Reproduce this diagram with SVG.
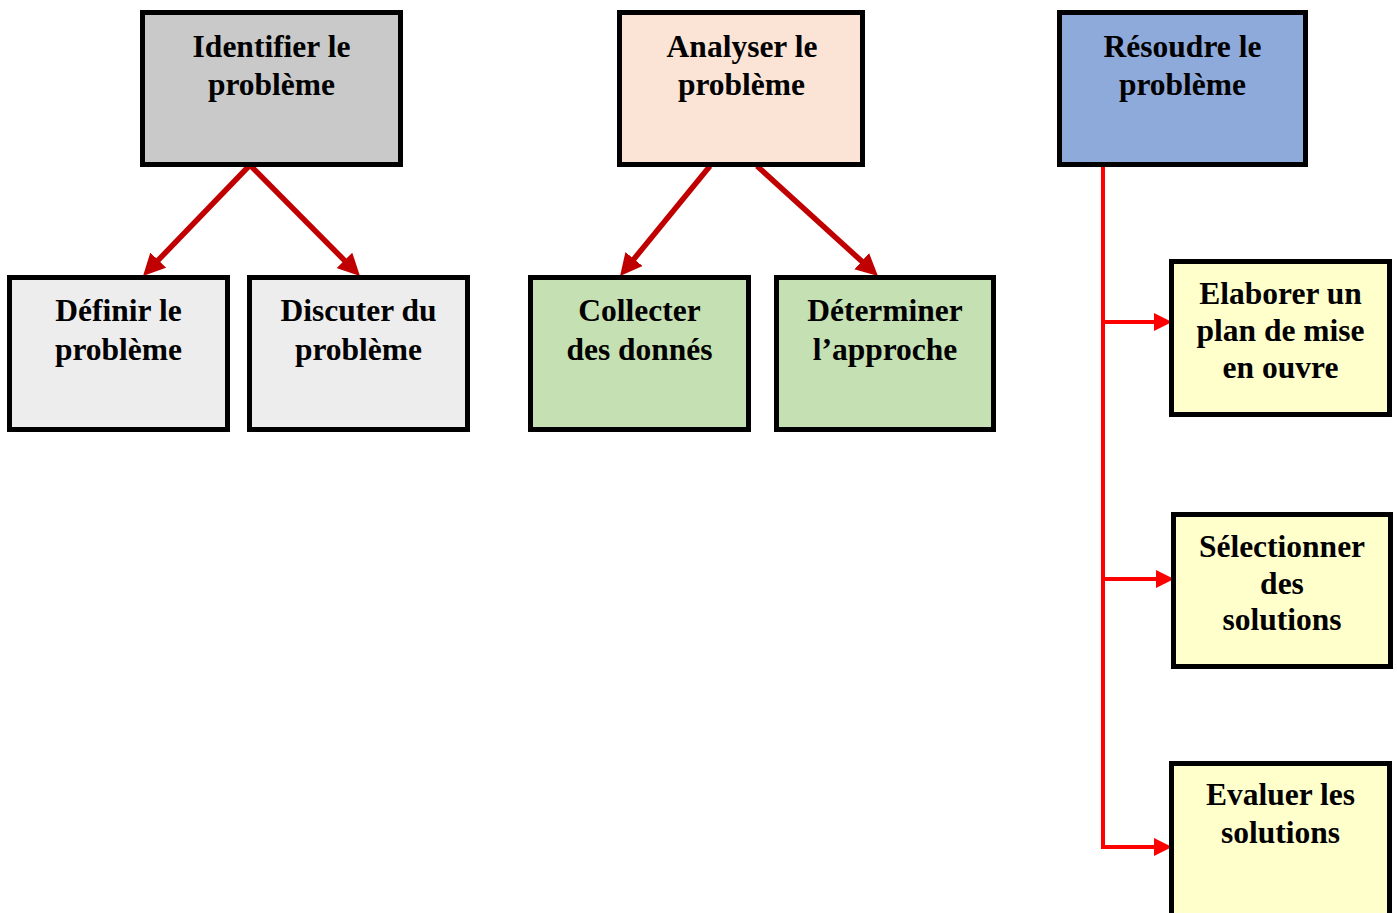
<svg xmlns="http://www.w3.org/2000/svg" width="1397" height="913" viewBox="0 0 1397 913">
<style>
.box{stroke:#000;stroke-width:5}
.t{font-family:"Liberation Serif","Times New Roman",serif;font-weight:bold;font-size:31.5px;fill:#000;text-anchor:middle}
.dr{stroke:#C00000;stroke-width:5.5;fill:none}
.rd{stroke:#FF0000;stroke-width:4;fill:none}
</style>
<defs>
<marker id="ahd" markerUnits="userSpaceOnUse" viewBox="0 0 22 22" markerWidth="22" markerHeight="22" refX="8" refY="11" orient="auto">
<path d="M0,0 L22,11 L0,22 z" fill="#C00000"/>
</marker>
<marker id="ahr" markerUnits="userSpaceOnUse" viewBox="0 0 18 18" markerWidth="18" markerHeight="18" refX="2" refY="9" orient="auto">
<path d="M0,0 L18,9 L0,18 z" fill="#FF0000"/>
</marker>
</defs>
<rect width="1397" height="913" fill="#fff"/>
<g id="connectors">
<path class="dr" d="M250,165 L152.7,265.9" marker-end="url(#ahd)"/>
<path class="dr" d="M250,165 L350.1,266.1" marker-end="url(#ahd)"/>
<path class="dr" d="M710,166 L628.9,265.2" marker-end="url(#ahd)"/>
<path class="dr" d="M757,166 L867.6,266.6" marker-end="url(#ahd)"/>
<path class="rd" d="M1103,166 V847 H1156" marker-end="url(#ahr)"/>
<path class="rd" d="M1103,322 H1156" marker-end="url(#ahr)"/>
<path class="rd" d="M1103,579 H1158" marker-end="url(#ahr)"/>
</g>
<g id="n-identifier">
<rect class="box" x="142.5" y="12.5" width="258" height="152" fill="#C9C9C9"/>
<text class="t" x="271.5" y="57">Identifier le</text>
<text class="t" x="271.5" y="95">problème</text>
</g>
<g id="n-definir">
<rect class="box" x="9.5" y="277.5" width="218" height="152" fill="#EDEDED"/>
<text class="t" x="118.5" y="321">Définir le</text>
<text class="t" x="118.5" y="360">problème</text>
</g>
<g id="n-discuter">
<rect class="box" x="249.5" y="277.5" width="218" height="152" fill="#EDEDED"/>
<text class="t" x="358.5" y="321">Discuter du</text>
<text class="t" x="358.5" y="360">problème</text>
</g>
<g id="n-analyser">
<rect class="box" x="619.5" y="12.5" width="243" height="152" fill="#FBE4D5"/>
<text class="t" x="742" y="57">Analyser le</text>
<text class="t" x="741.5" y="95">problème</text>
</g>
<g id="n-collecter">
<rect class="box" x="530.5" y="277.5" width="218" height="152" fill="#C5E0B3"/>
<text class="t" x="639.5" y="321">Collecter</text>
<text class="t" x="639.5" y="360">des donnés</text>
</g>
<g id="n-determiner">
<rect class="box" x="776.5" y="277.5" width="217" height="152" fill="#C5E0B3"/>
<text class="t" x="885" y="321">Déterminer</text>
<text class="t" x="885" y="360">l’approche</text>
</g>
<g id="n-resoudre">
<rect class="box" x="1059.5" y="12.5" width="246" height="152" fill="#8EAADB"/>
<text class="t" x="1182.5" y="57">Résoudre le</text>
<text class="t" x="1182.5" y="95">problème</text>
</g>
<g id="n-elaborer">
<rect class="box" x="1171.5" y="261.5" width="218" height="153" fill="#FFFFCC"/>
<text class="t" x="1280.5" y="304">Elaborer un</text>
<text class="t" x="1280.5" y="341">plan de mise</text>
<text class="t" x="1280.5" y="378">en ouvre</text>
</g>
<g id="n-selectionner">
<rect class="box" x="1173.5" y="514.5" width="217" height="152" fill="#FFFFCC"/>
<text class="t" x="1282" y="557">Sélectionner</text>
<text class="t" x="1282" y="593.5">des</text>
<text class="t" x="1282" y="630">solutions</text>
</g>
<g id="n-evaluer">
<rect class="box" x="1171.5" y="763.5" width="218" height="170" fill="#FFFFCC"/>
<text class="t" x="1280.5" y="805">Evaluer les</text>
<text class="t" x="1280.5" y="843">solutions</text>
</g>
</svg>
